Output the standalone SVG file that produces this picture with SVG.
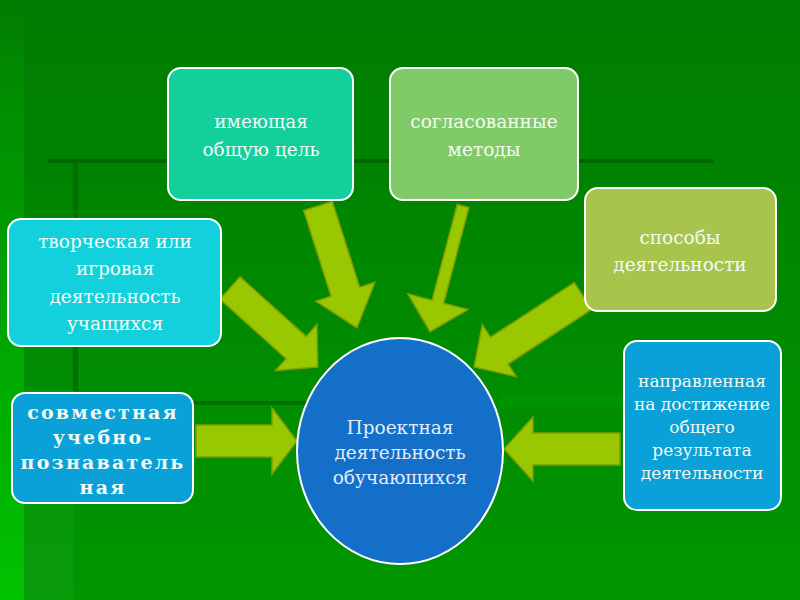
<svg xmlns="http://www.w3.org/2000/svg" width="800" height="600" viewBox="0 0 800 600">
<defs>
<linearGradient id="bg" x1="0" y1="0" x2="0" y2="1">
<stop offset="0" stop-color="#007c00"/>
<stop offset="1" stop-color="#009600"/>
</linearGradient>
<linearGradient id="lside" x1="0" y1="0" x2="0" y2="1">
<stop offset="0" stop-color="#00c800" stop-opacity="0"/>
<stop offset="0.3" stop-color="#00b000" stop-opacity="0.4"/>
<stop offset="1" stop-color="#00c800" stop-opacity="0.9"/>
</linearGradient>
</defs>
<style>
.box{stroke:#ffffff;stroke-width:2}
.t{font-family:"DejaVu Serif","Liberation Serif",serif;font-size:18.5px;fill:#f2faf4;text-anchor:middle}
.tb{font-family:"DejaVu Serif","Liberation Serif",serif;font-size:19px;font-weight:bold;letter-spacing:2.2px;fill:#f2faf4;text-anchor:middle}
.ar{fill:#99c800;stroke:#7f9f00;stroke-width:1.5;stroke-linejoin:miter}
</style>
<rect width="800" height="600" fill="url(#bg)"/>
<rect x="0" y="0" width="24" height="600" fill="url(#lside)"/>
<rect x="24" y="390" width="50" height="210" fill="#10a010" opacity="0.5"/>
<rect x="73" y="161" width="5" height="230" fill="#006e00"/>
<rect x="48" y="159" width="665" height="4" fill="#006600"/>
<rect x="190" y="401" width="120" height="4" fill="#006e00"/>
<rect x="500" y="395" width="130" height="12" fill="#00a000" opacity="0.35"/>

<g id="connectors">
<polygon class="ar" transform="translate(318,206) rotate(72.3)" points="0,-15 90,-15 90,-31 128,0 90,31 90,15 0,15"/>
<polygon class="ar" transform="translate(463,206) rotate(104.7)" points="0,-6 99,-6 99,-31 130,0 99,31 99,6 0,6"/>
<polygon class="ar" transform="translate(230,288) rotate(42)" points="0,-15 89,-15 89,-31 118,0 89,31 89,15 0,15"/>
<polygon class="ar" transform="translate(583,296) rotate(146.9)" points="0,-16 100,-16 100,-31 130,0 100,31 100,16 0,16"/>
<polygon class="ar" points="196,425 272,425 272,408 297,441 272,474 272,457 196,457"/>
<polygon class="ar" points="620,433 533,433 533,417 504,449 533,481 533,465 620,465"/>
</g>

<g id="n-goal">
<rect class="box" x="168" y="68" width="185" height="132" rx="13" fill="#12cf9b"/>
<text class="t" x="261" y="128">имеющая</text>
<text class="t" x="261" y="156">общую цель</text>
</g>
<g id="n-methods">
<rect class="box" x="390" y="68" width="188" height="132" rx="13" fill="#80cb68"/>
<text class="t" x="484" y="128">согласованные</text>
<text class="t" x="484" y="156">методы</text>
</g>
<g id="n-ways">
<rect class="box" x="585" y="188" width="191" height="123" rx="13" fill="#a8c44c"/>
<text class="t" x="680" y="244">способы</text>
<text class="t" x="680" y="271">деятельности</text>
</g>
<g id="n-creative">
<rect class="box" x="8" y="219" width="213" height="127" rx="13" fill="#12d0dc"/>
<text class="t" x="115" y="248">творческая или</text>
<text class="t" x="115" y="275">игровая</text>
<text class="t" x="115" y="303">деятельность</text>
<text class="t" x="115" y="330">учащихся</text>
</g>
<g id="n-joint">
<rect class="box" x="12" y="393" width="181" height="110" rx="13" fill="#0aa0d8"/>
<text class="tb" x="103" y="419">совместная</text>
<text class="tb" x="103" y="444">учебно-</text>
<text class="tb" x="103" y="469">познаватель</text>
<text class="tb" x="103" y="494">ная</text>
</g>
<g id="n-directed">
<rect class="box" x="624" y="341" width="157" height="169" rx="13" fill="#0aa0d8"/>
<text class="t" x="702" y="387" style="font-size:17px">направленная</text>
<text class="t" x="702" y="410" style="font-size:17px">на достижение</text>
<text class="t" x="702" y="433" style="font-size:17px">общего</text>
<text class="t" x="702" y="456" style="font-size:17px">результата</text>
<text class="t" x="702" y="479" style="font-size:17px">деятельности</text>
</g>
<g id="n-center">
<ellipse class="box" cx="400" cy="451" rx="103" ry="113" fill="#146fc8"/>
<text class="t" x="400" y="434" style="fill:#e2ecfa">Проектная</text>
<text class="t" x="400" y="459" style="fill:#e2ecfa">деятельность</text>
<text class="t" x="400" y="484" style="fill:#e2ecfa">обучающихся</text>
</g>
</svg>
